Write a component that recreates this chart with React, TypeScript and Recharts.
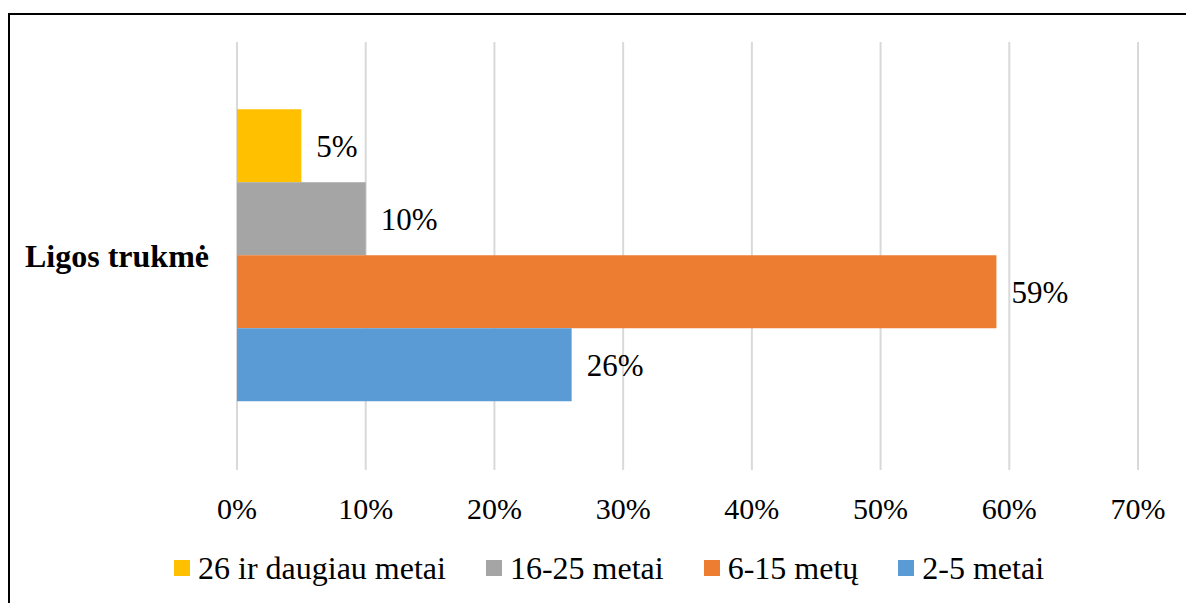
import React from 'react';
import {
  BarChart,
  Bar,
  XAxis,
  YAxis,
  CartesianGrid,
  Legend,
  LabelList
} from 'recharts';

const categories = ['Ligos trukmė'];
const seriesNames = ['26 ir daugiau metai', '16-25 metai', '6-15 metų', '2-5 metai'];
const seriesColors = ['#FFC000', '#A5A5A5', '#ED7D31', '#5B9BD5'];
const seriesValues = [5, 10, 59, 26];
const xTicks = [0, 10, 20, 30, 40, 50, 60, 70];

const FONT = "'Times New Roman', 'Liberation Serif', Tinos, 'DejaVu Serif', serif";

const data = categories.map(name => {
  const row: Record<string, string | number> = { name };
  seriesNames.forEach((s, i) => {
    row[s] = seriesValues[i];
  });
  return row;
});

function DurationLegend() {
  return (
    <div style={{ display: 'flex', alignItems: 'center', fontFamily: FONT, fontSize: 32, lineHeight: '36px', color: '#000' }}>
      {seriesNames.map((s, i) => (
        <div key={s} style={{ display: 'flex', alignItems: 'center', marginRight: 40 }}>
          <span style={{ display: 'inline-block', width: 16, height: 16, background: seriesColors[i], marginRight: 8 }} />
          <span style={{ whiteSpace: 'nowrap' }}>{s}</span>
        </div>
      ))}
    </div>
  );
}

export default function App() {
  return (
    <div style={{ position: 'absolute', left: 0, top: 0, width: 1186, height: 603, overflow: 'hidden', background: '#fff' }}>
      <div
        style={{
          position: 'absolute',
          left: 8,
          top: 13,
          width: 1400,
          height: 800,
          borderTop: '2px solid #000',
          borderLeft: '2px solid #000'
        }}
      />
      <div style={{ position: 'absolute', left: 0, top: 0 }}>
        <BarChart
          width={1186}
          height={603}
          data={data}
          layout="vertical"
          barCategoryGap="15.7%"
          barGap={0}
          margin={{ top: 42, right: 48, left: 0, bottom: 0 }}
          style={{ fontFamily: FONT }}
        >
          <CartesianGrid horizontal={false} stroke="#D9D9D9" strokeWidth={2} />
          <XAxis
            type="number"
            domain={[0, 70]}
            ticks={xTicks}
            tickFormatter={v => `${v}%`}
            axisLine={false}
            tickLine={false}
            tickSize={0}
            tickMargin={28}
            height={133}
            interval={0}
            tick={{ fontFamily: FONT, fontSize: 30, fill: '#000' }}
          />
          <YAxis
            type="category"
            dataKey="name"
            width={237}
            axisLine={false}
            tickLine={false}
            tickSize={0}
            tickMargin={28}
            tick={{ fontFamily: FONT, fontSize: 32, fontWeight: 'bold', fill: '#000' }}
          />
          <Legend
            layout="horizontal"
            verticalAlign="middle"
            align="center"
            content={<DurationLegend />}
            wrapperStyle={{ top: 550, left: 174, width: 1000, height: 36 }}
          />
          {seriesNames.map((s, i) => (
            <Bar key={s} dataKey={s} fill={seriesColors[i]} isAnimationActive={false}>
              <LabelList
                dataKey={s}
                position="right"
                offset={15}
                formatter={(v: any) => `${v}%`}
                fontFamily={FONT}
                fontSize={31}
                fill="#000"
              />
            </Bar>
          ))}
        </BarChart>
      </div>
    </div>
  );
}
